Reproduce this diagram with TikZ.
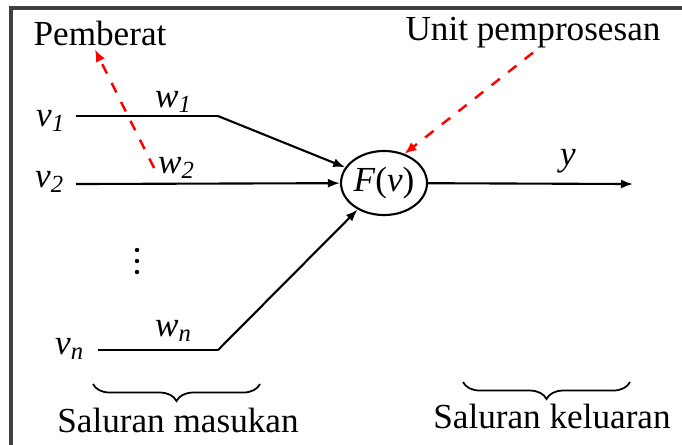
\documentclass[tikz,border=0pt]{standalone}
\usepackage{fontspec}
\setmainfont{Liberation Serif}
\usetikzlibrary{positioning,arrows.meta,shapes.geometric,decorations.pathreplacing}

% italic symbol with italic subscript
\newcommand{\varsub}[2]{\textit{#1}\textsubscript{\textit{#2}}}

\begin{document}
\begin{tikzpicture}[x=0.01cm,y=-0.01cm,font=\fontsize{10}{12}\selectfont,
    wire/.style={line width=0.6pt},
    feed/.style={wire,-{Latex[length=0.12cm,width=0.09cm]}},
    hint/.style={red,dashed,line width=0.7pt,-{Latex[length=0.12cm,width=0.1cm]}},
    group/.style={line width=0.5pt,decorate,decoration={brace,mirror,amplitude=0.17cm}}]
    \useasboundingbox (0,0) rectangle (682,444);
    \draw[line width=1pt,black!75] (11,8) rectangle (720,480);

    % labels on top
    \node[inner sep=1pt] (pemberat) at (100,33) {Pemberat};
    \node[inner sep=1pt] (unit) at (533,33) {Unit pemprosesan};

    % processing unit
    \node[draw,ellipse,line width=0.6pt,inner sep=0pt,minimum width=0.82cm,minimum height=0.64cm]
        (neuron) at (384,183) {\textit{F}(\textit{v})};

    % inputs
    \node (v1) at (51,121) {\varsub{v}{1}};
    \node (v2) at (50,182) {\varsub{v}{2}};
    \node (vn) at (70,349) {\varsub{v}{n}};
    \node (w1) at (174,102) {\varsub{w}{1}};
    \node[inner sep=1pt] (w2) at (177,168) {\varsub{w}{2}};
    \node (wn) at (174,331) {\varsub{w}{n}};
    \foreach \y in {250,261,272}
        \fill (137,\y) circle (0.022cm);

    \coordinate (in1) at (76,116);
    \coordinate (k1) at (218,116);
    \coordinate (in2) at (76,184);
    \coordinate (inn) at (98,350);
    \coordinate (kn) at (218,350);
    \coordinate (out) at (633,184);

    \draw[wire] (in1) -- (k1);
    \draw[feed] (k1) -- (neuron);
    \draw[feed] (in2) -- (neuron);
    \draw[wire] (inn) -- (kn);
    \draw[feed] (kn) -- (neuron);

    % output
    \draw[feed] (neuron) -- (out);
    \node (y) at (568,161) {\textit{y}};

    % pointers
    \draw[hint] (w2.west) -- ([xshift=-0.05cm]pemberat.south);
    \draw[hint] (unit.south) -- (neuron.55);

    % groups
    \draw[group] (93,384) -- (260,384);
    \node (masukan) at (178,420) {Saluran masukan};
    \draw[group] (463,382) -- (630,382);
    \node (keluaran) at (552,416) {Saluran keluaran};
\end{tikzpicture}
\end{document}
